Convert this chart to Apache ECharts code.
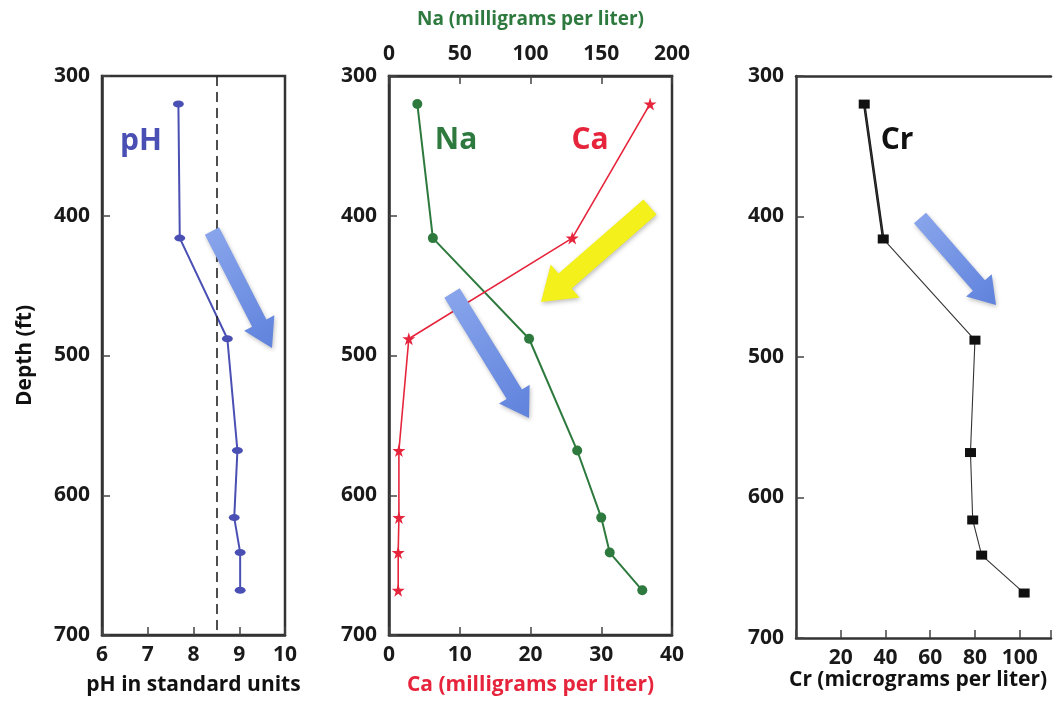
<!DOCTYPE html>
<html>
<head>
<meta charset="utf-8">
<script src="https://cdn.jsdelivr.net/npm/echarts@6/dist/echarts.min.js"></script>
<style>
html,body{margin:0;padding:0;background:#fff;}
#chart{width:1054px;height:701px;}
</style>
</head>
<body>
<div id="chart"></div>
<script>
// ---- data ----
const depthTicks = [300, 400, 500, 600, 700];
const depths = [320, 416, 488, 568, 616, 641, 668];
const pHValues = [7.67, 7.70, 8.74, 8.96, 8.89, 9.02, 9.02];
const naValues = [20, 31, 99, 133, 150, 156, 179];
const caValues = [36.9, 25.9, 2.8, 1.4, 1.4, 1.3, 1.3];
const crValues = [30.5, 39, 80, 78, 79, 83, 102];
const crTickLabels = [20, 40, 60, 80, 100];
const pHReference = 8.5;

const FONT = '"Open Sans", "Noto Sans", sans-serif';
const BLUE = '#4a4fb3', GREEN = '#2e7a3e', RED = '#e6253c', BLACK = '#111';
const STAR = 'path://M50,0 L61,35 L98,35 L68,57 L79,91 L50,70 L21,91 L32,57 L2,35 L39,35 Z';

function pairs(xs) { return xs.map((v, i) => [v, depths[i]]); }

const chart = echarts.init(document.getElementById('chart'));

const lbl = { fontFamily: FONT, fontWeight: 'bold', fontSize: 21, color: '#1a1a1a' };
const axLine = { show: true, lineStyle: { color: '#333', width: 2.5 } };
const tickIn = { show: true, inside: true, length: 8, lineStyle: { color: '#444', width: 1.5 } };
const nameStyle = (c, s) => ({ fontFamily: FONT, fontWeight: 'bold', fontSize: s, color: c });

function yAx(idx, showName) {
  return {
    type: 'value', gridIndex: idx, inverse: true, min: 300, max: 700, interval: 100,
    axisLine: axLine, axisTick: tickIn, splitLine: { show: false },
    axisLabel: Object.assign({ margin: 12 }, lbl),
    name: showName ? 'Depth (ft)' : '', nameLocation: 'middle', nameGap: 66, nameRotate: 90,
    nameTextStyle: nameStyle('#111', 21)
  };
}

function arrow(x0, y0, x1, y1, w, hw, hl, fill) {
  const dx = x1 - x0, dy = y1 - y0, L = Math.hypot(dx, dy);
  const ux = dx / L, uy = dy / L, nx = -uy, ny = ux;
  const kx = x1 - ux * hl, ky = y1 - uy * hl;
  const pts = [
    [x0 + nx * w, y0 + ny * w], [kx + nx * w, ky + ny * w], [kx + nx * hw, ky + ny * hw],
    [x1, y1], [kx - nx * hw, ky - ny * hw], [kx - nx * w, ky - ny * w], [x0 - nx * w, y0 - ny * w]
  ];
  return {
    type: 'polygon', shape: { points: pts }, z: 100,
    style: { fill: fill, shadowBlur: 4, shadowColor: 'rgba(0,0,0,0.25)', shadowOffsetX: 1, shadowOffsetY: 2 }
  };
}
function blueGrad() {
  return new echarts.graphic.LinearGradient(0, 0, 1, 1, [
    { offset: 0, color: '#8aa6ec' }, { offset: 1, color: '#5f82dc' }
  ]);
}
function label(text, x, y, color) {
  return { type: 'text', x: x, y: y, z: 100,
    style: { text: text, fill: color, font: 'bold 30px ' + FONT, textAlign: 'center', textVerticalAlign: 'middle' } };
}

const option = {
  backgroundColor: '#fff',
  animation: false,
  grid: [
    { left: 102, right: 769, top: 76, bottom: 64, show: true, borderColor: '#333', borderWidth: 2.5, backgroundColor: 'transparent' },
    { left: 389, right: 382, top: 76, bottom: 63, show: true, borderColor: '#333', borderWidth: 2.5, backgroundColor: 'transparent' },
    { left: 796, right: 0, top: 76, bottom: 63, show: false }
  ],
  xAxis: [
    { type: 'value', gridIndex: 0, min: 6, max: 10, interval: 1, position: 'bottom',
      axisLine: axLine, axisTick: tickIn, splitLine: { show: false },
      axisLabel: Object.assign({ margin: 10 }, lbl),
      name: 'pH in standard units', nameLocation: 'middle', nameGap: 40,
      nameTextStyle: nameStyle('#111', 21) },
    { type: 'value', gridIndex: 1, min: 0, max: 40, interval: 10, position: 'bottom',
      axisLine: axLine, axisTick: tickIn, splitLine: { show: false },
      axisLabel: Object.assign({ margin: 10 }, lbl),
      name: 'Ca (milligrams per liter)', nameLocation: 'middle', nameGap: 40,
      nameTextStyle: nameStyle(RED, 21) },
    { type: 'value', gridIndex: 1, min: 0, max: 200, interval: 50, position: 'top',
      axisLine: axLine, axisTick: tickIn, splitLine: { show: false },
      axisLabel: Object.assign({ margin: 11 }, lbl),
      name: 'Na (milligrams per liter)', nameLocation: 'middle', nameGap: 47,
      nameTextStyle: nameStyle(GREEN, 19) },
    { type: 'value', gridIndex: 2, min: 0, max: 114, interval: 20, position: 'bottom',
      axisLine: axLine, splitLine: { show: false },
      axisTick: Object.assign({}, tickIn, { interval: (i, v) => crTickLabels.indexOf(Number(v)) >= 0 }),
      axisLabel: Object.assign({ margin: 10, formatter: v => crTickLabels.indexOf(v) >= 0 ? String(v) : '' }, lbl),
      name: 'Cr (micrograms per liter)', nameLocation: 'start', nameGap: 7,
      nameTextStyle: Object.assign(nameStyle('#111', 21), { align: 'left', verticalAlign: 'top', padding: [32, 0, 0, 0] }) },
    { type: 'value', gridIndex: 2, min: 0, max: 114, position: 'top',
      axisLine: axLine, axisTick: { show: false }, axisLabel: { show: false }, splitLine: { show: false } }
  ],
  yAxis: [yAx(0, true), yAx(1, false), yAx(2, false)],
  series: [
    { type: 'line', xAxisIndex: 0, yAxisIndex: 0, data: pairs(pHValues),
      symbol: 'circle', symbolSize: [11, 7], itemStyle: { color: BLUE },
      lineStyle: { color: BLUE, width: 2 },
      markLine: { silent: true, symbol: 'none', label: { show: false },
        lineStyle: { type: [10, 6], color: '#222', width: 1.6 }, data: [{ xAxis: pHReference }] } },
    { type: 'line', xAxisIndex: 2, yAxisIndex: 1, data: pairs(naValues),
      symbol: 'circle', symbolSize: 10, itemStyle: { color: GREEN },
      lineStyle: { color: GREEN, width: 2 } },
    { type: 'line', xAxisIndex: 1, yAxisIndex: 1, data: pairs(caValues),
      symbol: STAR, symbolSize: 13, itemStyle: { color: RED },
      lineStyle: { color: RED, width: 1.6 } },
    { type: 'line', xAxisIndex: 3, yAxisIndex: 2, data: pairs(crValues).slice(0, 2),
      symbol: 'none', lineStyle: { color: BLACK, width: 2.6 } },
    { type: 'line', xAxisIndex: 3, yAxisIndex: 2, data: pairs(crValues),
      symbol: 'rect', symbolSize: [11, 9], itemStyle: { color: BLACK },
      lineStyle: { color: '#333', width: 1.1 } }
  ],
  graphic: [
    label('pH', 141, 141, BLUE),
    label('Na', 456, 140, GREEN),
    label('Ca', 590, 140, RED),
    label('Cr', 897, 140, BLACK),
    arrow(212, 231, 272, 348, 8, 17, 28, blueGrad()),
    arrow(452, 293, 529, 418, 9, 18, 28, blueGrad()),
    arrow(650, 207, 541, 302, 10, 22, 32, '#f4f01c'),
    arrow(920, 218, 996, 305, 8, 17, 26, blueGrad())
  ]
};
chart.setOption(option);
</script>
</body>
</html>
